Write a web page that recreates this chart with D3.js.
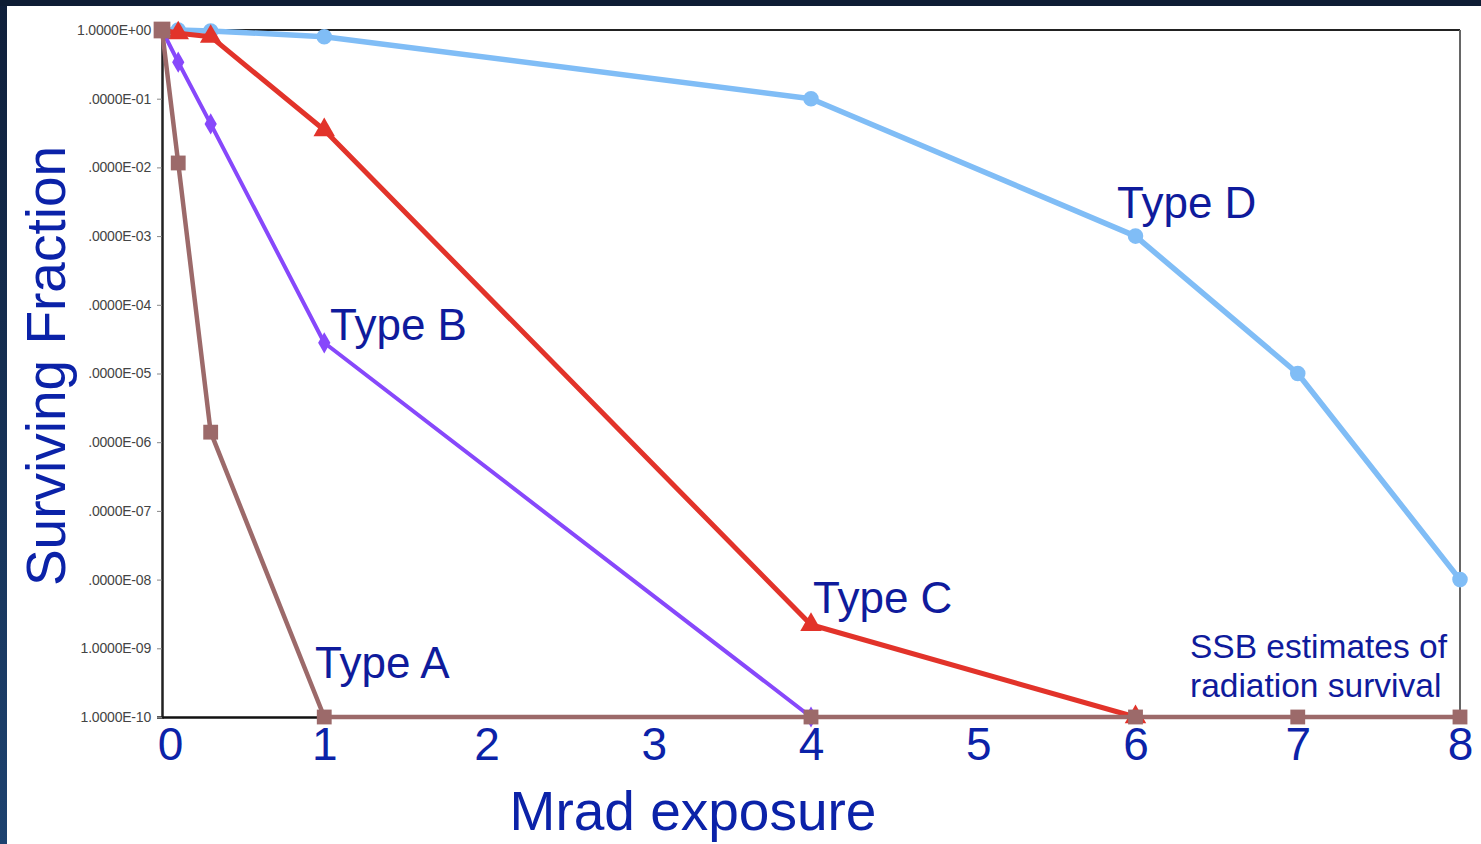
<!DOCTYPE html>
<html>
<head>
<meta charset="utf-8">
<script src="https://cdn.jsdelivr.net/npm/d3@7"></script>
<style>
html,body{margin:0;padding:0;background:#fff;}
svg{display:block;}
</style>
</head>
<body>
<svg id="chart" width="1481" height="844"></svg>
<script>
// ---- data ----
const xTicks = [0,1,2,3,4,5,6,7,8];
const yTicks = [1e0,1e-1,1e-2,1e-3,1e-4,1e-5,1e-6,1e-7,1e-8,1e-9,1e-10];
const yTickLabels = ["1.0000E+00",".0000E-01",".0000E-02",".0000E-03",".0000E-04",".0000E-05",".0000E-06",".0000E-07",".0000E-08","1.0000E-09","1.0000E-10"];

const typeDx = [0, 0.1, 0.3, 1, 4, 6, 7, 8];
const typeDy = [1, 1, 0.97, 0.8, 0.1, 1e-3, 1e-5, 1e-8];

const typeCx = [0, 0.1, 0.3, 1, 4, 6];
const typeCy = [1, 0.9, 0.8, 0.035, 2.2e-9, 1e-10];

const typeBx = [0, 0.1, 0.3, 1, 4];
const typeBy = [1, 0.34, 0.043, 2.8e-5, 1e-10];

const typeAx = [0, 0.1, 0.3, 1, 4, 6, 7, 8];
const typeAy = [1, 0.0116, 1.4e-6, 1e-10, 1e-10, 1e-10, 1e-10, 1e-10];

const seriesNames = ["Type D","Type C","Type B","Type A"];
const annotation = ["SSB estimates of","radiation survival"];
const xTitle = "Mrad exposure";
const yTitle = "Surviving Fraction";

// ---- layout ----
(function(){
const svg = d3.select("#chart");
const W = 1481, H = 844;
const pL = 162, pR = 1460, pT = 30, pB = 717;
const x = d3.scaleLinear().domain([0,8]).range([pL,pR]);
const y = d3.scaleLog().domain([1,1e-10]).range([pT,pB]);
const textBlue = "#0f1b9c";
const font = "'Liberation Sans', Arial, Helvetica, sans-serif";

// frame bands
const defs = svg.append("defs");
const lg = defs.append("linearGradient").attr("id","lband").attr("x1",0).attr("y1",0).attr("x2",0).attr("y2",1);
lg.append("stop").attr("offset","0%").attr("stop-color","#0f1f3a");
lg.append("stop").attr("offset","100%").attr("stop-color","#1d426f");
svg.append("rect").attr("x",0).attr("y",0).attr("width",7).attr("height",H).attr("fill","url(#lband)");
svg.append("rect").attr("x",0).attr("y",0).attr("width",W).attr("height",6).attr("fill","#0e1d34");

// plot frame
svg.append("line").attr("x1",pL).attr("x2",pR).attr("y1",pT).attr("y2",pT).attr("stroke","#222").attr("stroke-width",2);
svg.append("line").attr("x1",pR).attr("x2",pR).attr("y1",pT).attr("y2",pB).attr("stroke","#666").attr("stroke-width",2);

// y axis
const yAxis = d3.axisLeft(y).tickValues(yTicks).tickSize(5).tickPadding(6)
  .tickFormat((d,i)=>yTickLabels[i]);
const yg = svg.append("g").attr("transform",`translate(${pL},0)`).call(yAxis);
yg.select(".domain").attr("stroke","#222").attr("stroke-width",2.5);
yg.selectAll(".tick line").attr("stroke","#888");
yg.selectAll("text").attr("font-family",font).attr("font-size",14).attr("fill","#444").attr("letter-spacing","-0.2px");

// x axis
const xAxis = d3.axisBottom(x).tickValues(xTicks).tickSize(0).tickPadding(10).tickFormat(d3.format("d"));
const xg = svg.append("g").attr("transform",`translate(0,${pB})`).call(xAxis);
xg.select(".domain").attr("stroke","#111").attr("stroke-width",2.5);
xg.selectAll("text").attr("font-family",font).attr("font-size",46).attr("fill","#0b22a8")
  .attr("dx",d=> d===0 ? 8 : (d===3||d===5) ? 5 : 0);

// titles
svg.append("text").attr("x",693).attr("y",830).attr("text-anchor","middle")
  .attr("font-family",font).attr("font-size",55).attr("fill","#0b22a8").text(xTitle);
svg.append("text").attr("transform","translate(65,366) rotate(-90)").attr("text-anchor","middle")
  .attr("font-family",font).attr("font-size",55).attr("fill","#0b22a8").text(yTitle);

// series
const line = d3.line().x(d=>x(d[0])).y(d=>y(d[1]));
function zip(a,b){return a.map((v,i)=>[v,b[i]]);}

const series = [
  {name:seriesNames[0], data:zip(typeDx,typeDy), color:"#80bdf6", width:5.5, sym:d3.symbolCircle, size:190},
  {name:seriesNames[1], data:zip(typeCx,typeCy), color:"#e2332a", width:5, sym:d3.symbolTriangle, size:200},
  {name:seriesNames[2], data:zip(typeBx,typeBy), color:"#8748fb", width:4, sym:d3.symbolDiamond, size:130},
  {name:seriesNames[3], data:zip(typeAx,typeAy), color:"#9c6a6a", width:4.5, sym:d3.symbolSquare, size:220}
];

series.forEach(s=>{
  const g = svg.append("g");
  g.append("path").datum(s.data).attr("d",line).attr("fill","none")
    .attr("stroke",s.color).attr("stroke-width",s.width).attr("stroke-linejoin","round");
  g.selectAll("path.m").data(s.data.slice(1)).enter().append("path").attr("class","m")
    .attr("transform",d=>`translate(${x(d[0])},${y(d[1])})`)
    .attr("d",d3.symbol().type(s.sym).size(s.size)).attr("fill",s.color);
});
// first brown square at origin
svg.append("path").attr("transform",`translate(${x(typeAx[0])},${y(typeAy[0])})`)
  .attr("d",d3.symbol().type(d3.symbolSquare).size(280)).attr("fill","#9c6a6a");

// series labels
const labelPos = [[1117,218],[813,613],[330,340],[315,678]];
seriesNames.forEach((n,i)=>{
  svg.append("text").attr("x",labelPos[i][0]).attr("y",labelPos[i][1])
    .attr("font-family",font).attr("font-size",44).attr("fill",textBlue).text(n);
});
annotation.forEach((t,i)=>{
  svg.append("text").attr("x",1190).attr("y",658+i*39)
    .attr("font-family",font).attr("font-size",33.5).attr("fill",textBlue).text(t);
});
})();
</script>
</body>
</html>
